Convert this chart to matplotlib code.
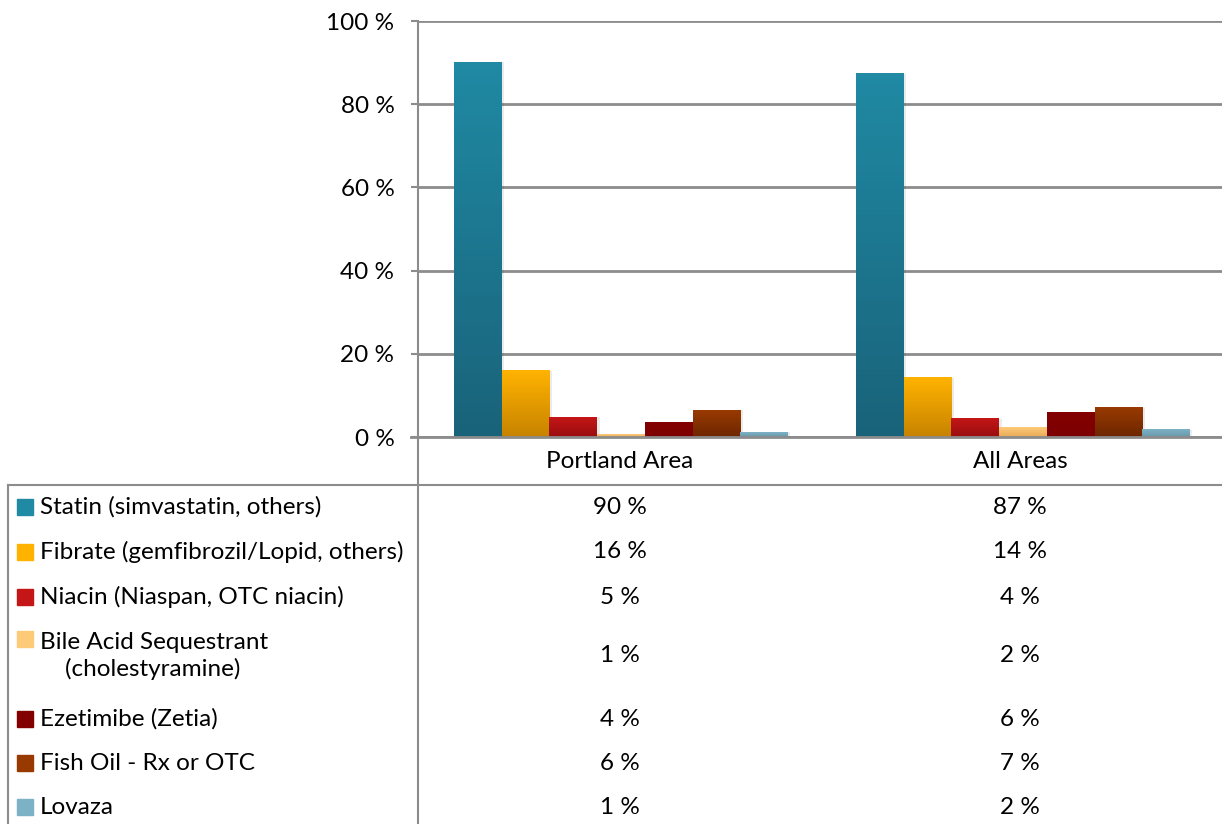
import numpy as np
import matplotlib
matplotlib.use('Agg')
import matplotlib.pyplot as plt
from matplotlib.colors import LinearSegmentedColormap
from matplotlib.lines import Line2D
from matplotlib.patches import Rectangle

# data
areas = ['Portland Area', 'All Areas']
drugs = ['Statin (simvastatin, others)',
         'Fibrate (gemfibrozil/Lopid, others)',
         'Niacin (Niaspan, OTC niacin)',
         'Bile Acid Sequestrant\n    (cholestyramine)',
         'Ezetimibe (Zetia)',
         'Fish Oil - Rx or OTC',
         'Lovaza']
portland = [90.1, 15.9, 4.8, 0.7, 3.6, 6.4, 1.2]
all_areas = [87.3, 14.2, 4.4, 2.2, 6.0, 7.0, 1.7]
yticks = [0, 20, 40, 60, 80, 100]

# (top, bottom) gradient colours per drug
shades = [('#2089a3', '#19637a'),
          ('#ffb300', '#c78300'),
          ('#c41616', '#990d10'),
          ('#fdca78', '#eaaa58'),
          ('#830000', '#7d0000'),
          ('#983a00', '#6e2600'),
          ('#7db2c6', '#6a98aa')]

W, H = 1222, 824
plt.rcParams['font.family'] = ['Lato', 'DejaVu Sans']
FS = 17.5
GRID = '#8c8c8c'


def fx(x):
    return x / W


def fy(y):
    return 1 - y / H


fig = plt.figure(figsize=(W / 100, H / 100), dpi=100)
ax = fig.add_axes([fx(418), fy(437), fx(1222) - fx(418), fy(21) - fy(437)])

# bars
values = np.array([portland, all_areas])
n = len(drugs)
width = 0.1187
x = np.arange(len(areas)) + 0.005
for i in range(n):
    offs = (i - (n - 1) / 2) * width
    bars = ax.bar(x + offs, values[:, i], width, color='none', zorder=3)
    cmap = LinearSegmentedColormap.from_list('g%d' % i, [shades[i][1], shades[i][0]])
    grad = np.linspace(0, 1, 64).reshape(-1, 1)
    for b in bars:
        x0, w, h = b.get_x(), b.get_width(), b.get_height()
        # soft shadow
        ax.add_patch(Rectangle((x0 + 0.006, -0.4), w, h + 0.4, color='#000000',
                               alpha=0.08, zorder=2, lw=0))
        ax.imshow(grad, cmap=cmap, origin='lower', aspect='auto',
                  extent=(x0, x0 + w, 0, h), zorder=3)

ax.set_xlim(-0.5, 1.5)
ax.set_ylim(0, 100)
ax.set_yticks(yticks)
ax.set_yticklabels(['%d %%' % t for t in yticks], fontsize=FS)
ax.set_xticks([])
ax.tick_params(axis='y', length=5, width=1.5, color=GRID, pad=12)
ax.grid(axis='y', color=GRID, linewidth=2, zorder=1)
for s in ['top', 'right', 'bottom']:
    ax.spines[s].set_visible(False)
ax.spines['left'].set_color(GRID)
ax.spines['left'].set_linewidth(1.5)

# data table below
def hline(x0, x1, y, lw=1.5):
    fig.add_artist(Line2D([fx(x0), fx(x1)], [fy(y), fy(y)], color=GRID, lw=lw))


def vline(x, y0, y1, lw=1.5):
    fig.add_artist(Line2D([fx(x), fx(x)], [fy(y0), fy(y1)], color=GRID, lw=lw))


hline(411, 1222, 437, lw=2)
hline(8, 1222, 485)
vline(418, 437, 824)
vline(8, 485, 824)

col_x = [620, 1020]
for cx, name in zip(col_x, areas):
    fig.text(fx(cx), fy(462), name, ha='center', va='center', fontsize=FS)

row_y = [507, 552, 597, 656, 719, 763, 807]
for i, (name, ry) in enumerate(zip(drugs, row_y)):
    sq = 16
    top = ry - sq / 2 if i != 3 else 639 - sq / 2
    fig.add_artist(Rectangle((fx(17), fy(top + sq)), sq / W, sq / H,
                             color=shades[i][0], transform=fig.transFigure))
    fig.text(fx(40), fy(ry), name, ha='left', va='center', fontsize=FS,
             linespacing=1.3)
    for cx, v in zip(col_x, values[:, i]):
        fig.text(fx(cx), fy(ry), '%d %%' % round(v), ha='center', va='center',
                 fontsize=FS)

fig.savefig('out.png', dpi=100)
